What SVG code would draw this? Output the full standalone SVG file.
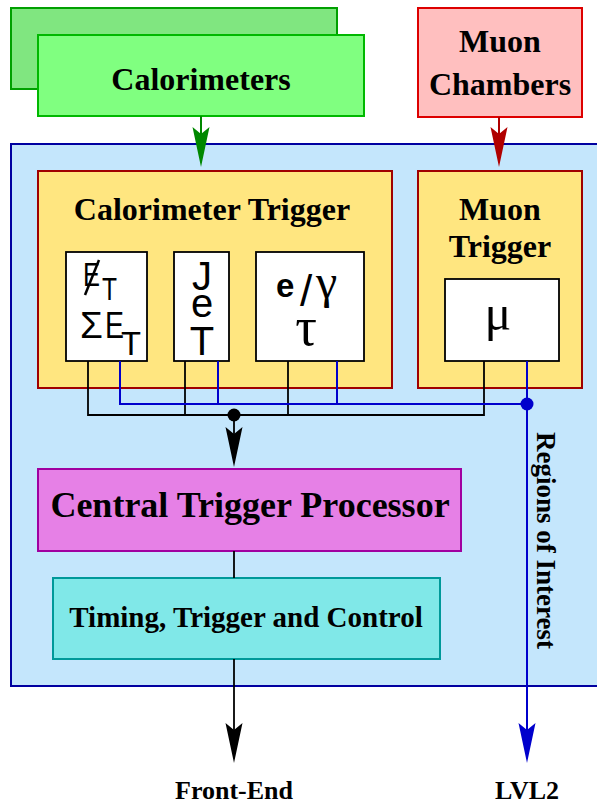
<svg xmlns="http://www.w3.org/2000/svg" width="597" height="806" viewBox="0 0 597 806">
<style>
.t{font-family:"Liberation Serif","Times New Roman",serif;font-weight:bold;fill:#000;text-anchor:middle}
.v{font-family:"Liberation Serif","Times New Roman",serif;font-weight:bold;fill:#000;text-anchor:start}
.s{font-family:"Liberation Sans",Arial,sans-serif;fill:#000}
.g{font-family:"Liberation Serif","Times New Roman",serif;fill:#000}
.blk{stroke:#000;stroke-width:1.8;fill:none}
.blu{stroke:#0000cc;stroke-width:2;fill:none}
.wb{fill:#fff;stroke:#000;stroke-width:1.8}
.yb{fill:#ffe680;stroke:#a00000;stroke-width:2}
</style>
<defs>
<marker id="ag" markerUnits="userSpaceOnUse" markerWidth="42" markerHeight="20" refX="7" refY="0" orient="auto" overflow="visible"><path d="M40,0 L0,-8.5 L7,0 L0,8.5 Z" fill="#008800"/></marker>
<marker id="ar" markerUnits="userSpaceOnUse" markerWidth="42" markerHeight="20" refX="7" refY="0" orient="auto" overflow="visible"><path d="M40,0 L0,-8.5 L7,0 L0,8.5 Z" fill="#b00000"/></marker>
<marker id="ak" markerUnits="userSpaceOnUse" markerWidth="42" markerHeight="20" refX="7" refY="0" orient="auto" overflow="visible"><path d="M40,0 L0,-8.5 L7,0 L0,8.5 Z" fill="#000"/></marker>
<marker id="ab" markerUnits="userSpaceOnUse" markerWidth="42" markerHeight="20" refX="7" refY="0" orient="auto" overflow="visible"><path d="M40,0 L0,-8.5 L7,0 L0,8.5 Z" fill="#0000cc"/></marker>
</defs>

<g id="level1-box">
<rect x="11" y="144" width="600" height="542" fill="#c4e6fc" stroke="#0000a0" stroke-width="2"/>
</g>

<g id="calorimeters">
<rect x="11" y="8" width="326" height="81" fill="#80e680" stroke="#00a000" stroke-width="2"/>
<rect x="38" y="35" width="326" height="81" fill="#80ff80" stroke="#00b800" stroke-width="2"/>
<text class="t" x="201" y="90" font-size="32">Calorimeters</text>
</g>

<g id="muon-chambers">
<rect x="418" y="8" width="164" height="109" fill="#ffbfbf" stroke="#dd0000" stroke-width="2"/>
<text class="t" x="500" y="52" font-size="32">Muon</text>
<text class="t" x="500" y="95" font-size="32">Chambers</text>
</g>

<g id="calorimeter-trigger">
<rect class="yb" x="38" y="171" width="354" height="217"/>
<text class="t" x="212" y="220" font-size="32">Calorimeter Trigger</text>
</g>

<g id="et-box">
<rect class="wb" x="66" y="252" width="81" height="109"/>
<text class="s" x="83" y="286" font-size="34" textLength="17" lengthAdjust="spacingAndGlyphs">E</text>
<text class="s" x="102" y="300" font-size="32" textLength="15" lengthAdjust="spacingAndGlyphs">T</text>
<line x1="85" y1="295" x2="99" y2="260" stroke="#000" stroke-width="2.5"/>
<text class="s" x="80" y="338" font-size="37">Σ</text>
<text class="s" x="105" y="338" font-size="37" textLength="19" lengthAdjust="spacingAndGlyphs">E</text>
<text class="s" x="121" y="355" font-size="34" textLength="20" lengthAdjust="spacingAndGlyphs">T</text>
</g>

<g id="jet-box">
<rect class="wb" x="174" y="252" width="55" height="109"/>
<text class="s" x="202" y="290" font-size="40" text-anchor="middle">J</text>
<text class="s" x="202" y="317" font-size="40" text-anchor="middle">e</text>
<text class="s" x="202" y="355" font-size="40" text-anchor="middle">T</text>
</g>

<g id="egamma-box">
<rect class="wb" x="256" y="252" width="108" height="109"/>
<text class="s" x="276" y="297" font-size="33" font-weight="bold">e</text>
<text class="s" x="300" y="306" font-size="44">/</text>
<text class="g" x="316" y="298" font-size="48">γ</text>
<text class="g" x="306" y="345" font-size="54" text-anchor="middle">τ</text>
</g>

<g id="muon-trigger">
<rect class="yb" x="418" y="171" width="164" height="217"/>
<text class="t" x="500" y="220" font-size="32">Muon</text>
<text class="t" x="500" y="257" font-size="32">Trigger</text>
</g>

<g id="mu-box">
<rect class="wb" x="445" y="279" width="114" height="82"/>
<text class="g" x="498" y="330" font-size="50" text-anchor="middle">μ</text>
</g>

<g id="ctp">
<rect x="38" y="469" width="423" height="82" fill="#e680e6" stroke="#a000a0" stroke-width="2"/>
<text class="t" x="250" y="517" font-size="36">Central Trigger Processor</text>
</g>

<g id="ttc">
<rect x="53" y="578" width="387" height="81" fill="#80e8e8" stroke="#009999" stroke-width="2"/>
<text class="t" x="246" y="627" font-size="29">Timing, Trigger and Control</text>
</g>

<g id="connectors">
<line x1="201" y1="116" x2="201" y2="134" stroke="#008800" stroke-width="2" marker-end="url(#ag)"/>
<line x1="499" y1="117" x2="499" y2="134" stroke="#b00000" stroke-width="2" marker-end="url(#ar)"/>
<polyline class="blk" points="88,361 88,415 484,415 484,361"/>
<line class="blk" x1="185" y1="361" x2="185" y2="415"/>
<line class="blk" x1="288" y1="361" x2="288" y2="415"/>
<circle cx="234" cy="415" r="6.5" fill="#000"/>
<line class="blk" x1="234" y1="415" x2="234" y2="434" marker-end="url(#ak)"/>
<polyline class="blu" points="120,361 120,404 527,404"/>
<line class="blu" x1="218" y1="361" x2="218" y2="404"/>
<line class="blu" x1="337" y1="361" x2="337" y2="404"/>
<line class="blu" x1="527" y1="361" x2="527" y2="730" marker-end="url(#ab)"/>
<circle cx="527" cy="404" r="6.5" fill="#0000cc"/>
<line class="blk" x1="234" y1="551" x2="234" y2="578"/>
<line class="blk" x1="234" y1="659" x2="234" y2="730" marker-end="url(#ak)"/>
</g>

<g id="labels">
<text class="v" x="537" y="432" font-size="27" transform="rotate(90 537 432)">Regions of Interest</text>
<text class="t" x="234" y="799" font-size="26">Front-End</text>
<text class="t" x="527" y="799" font-size="26">LVL2</text>
</g>
</svg>
